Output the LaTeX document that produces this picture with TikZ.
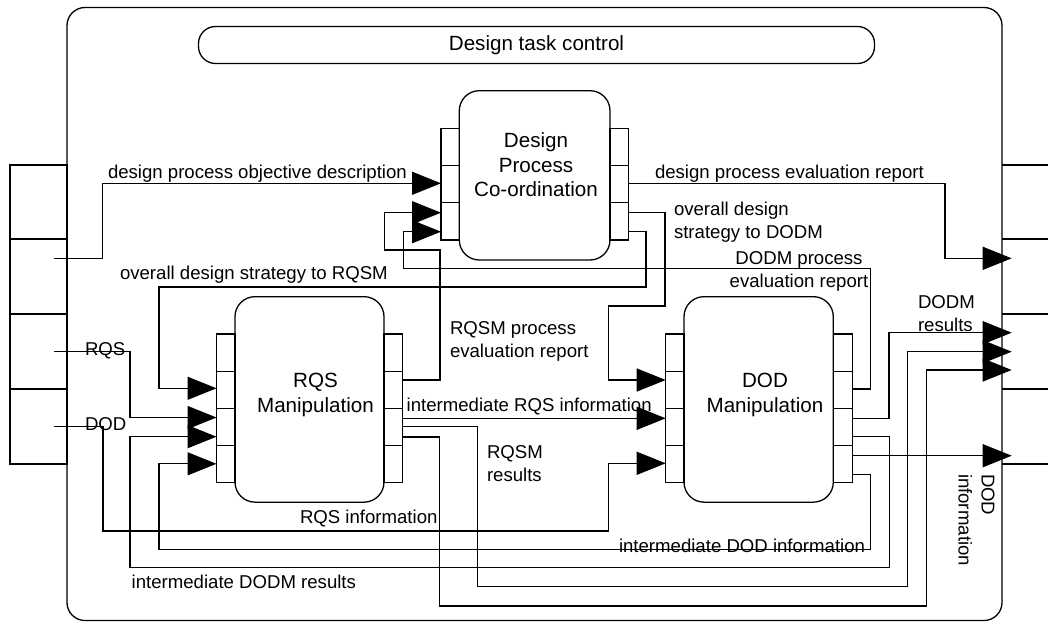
\documentclass[tikz,border=0pt]{standalone}
\usepackage{fontspec}
\setmainfont{Liberation Sans}
\usetikzlibrary{arrows.meta}
\begin{document}
\begin{tikzpicture}[x=1pt,y=-1pt,line width=1.3pt,
  lbl/.style={font=\fontsize{18.6}{23}\selectfont,inner sep=0pt,outer sep=0pt},
  blbl/.style={font=\fontsize{20.6}{24.5}\selectfont,align=center,inner sep=0pt},
  procbox/.style={draw,rounded corners=20pt,inner sep=0pt,outer sep=0pt},
  conn/.style={-{Triangle[length=29pt,width=23pt]}}]
\useasboundingbox (0,0) rectangle (1048,623);

% outer frame and its port columns
\draw[rounded corners=18pt] (67,7.5) rectangle (1002,620.5);
\draw (10,165) rectangle (67,464);
\foreach \y in {239,314,389} \draw (10,\y) -- (67,\y);
\foreach \y in {165,239,314,389,464} \draw (1002,\y) -- (1048,\y);

% title
\node[draw,rounded corners=17pt,minimum width=676pt,minimum height=37pt,inner sep=0pt,
      font=\fontsize{20.6}{24}\selectfont] (title) at (536.5,45) {Design task control};

% process boxes
\node[procbox,minimum width=150.7pt,minimum height=169.3pt] (dpc) at (534.65,175.35) {};
\node[procbox,minimum width=149pt,minimum height=205.5pt] (rqs) at (309.5,399.4) {};
\node[procbox,minimum width=149.3pt,minimum height=205.5pt] (dod) at (758.65,399.4) {};
\node[blbl] (dpct) at (536,165) {Design\\Process\\Co-ordination};
\node[blbl] (rqst) at (315.5,395) {RQS\\Manipulation};
\node[blbl] (dodt) at (765,395) {DOD\\Manipulation};

% port columns of the boxes
\draw (441,128.3) rectangle (459.3,240);
\draw (610,128.3) rectangle (628.3,240);
\foreach \y in {165.7,202.7} {\draw (441,\y) -- (459.3,\y); \draw (610,\y) -- (628.3,\y);}
\draw (216.5,334) rectangle (235,482.7);
\draw (384,334) rectangle (402.7,482.7);
\draw (665.7,334) rectangle (684,482.7);
\draw (833.3,334) rectangle (852.3,482.7);
\foreach \y in {371.2,408.3,445.5} {
  \draw (216.5,\y) -- (235,\y); \draw (384,\y) -- (402.7,\y);
  \draw (665.7,\y) -- (684,\y); \draw (833.3,\y) -- (852.3,\y);}

% port points
\coordinate (lpA) at (54,258.3);
\coordinate (lpB) at (54,351.7);
\coordinate (lpC) at (54,426.7);
\coordinate (rpA) at (1011.7,258.3);
\coordinate (rpB) at (1011.7,332.7);
\coordinate (rpC) at (1011.7,351.7);
\coordinate (rpD) at (1011.7,370);
\coordinate (rpE) at (1011.7,455.7);
\coordinate (dpcI1) at (441,183.3);
\coordinate (dpcI2) at (441,212.7);
\coordinate (dpcI3) at (441,231.7);
\coordinate (dpcO1) at (628.3,183.3);
\coordinate (dpcO2) at (628.3,212.7);
\coordinate (dpcO3) at (628.3,231.7);
\coordinate (rqsI1) at (216.5,388.3);
\coordinate (rqsI2) at (216.5,417.5);
\coordinate (rqsI3) at (216.5,436.7);
\coordinate (rqsI4) at (216.5,463.8);
\coordinate (rqsO1) at (402.7,380);
\coordinate (rqsO2) at (402.7,418.3);
\coordinate (rqsO3) at (402.7,426.7);
\coordinate (rqsO4) at (402.7,437);
\coordinate (dodI1) at (665.7,380);
\coordinate (dodI2) at (665.7,418.3);
\coordinate (dodI3) at (665.7,463.3);
\coordinate (dodO1) at (852.3,389);
\coordinate (dodO2) at (852.3,418.3);
\coordinate (dodO3) at (852.3,436.7);
\coordinate (dodO4) at (852.3,455.7);
\coordinate (dodO5) at (852.3,474.5);

% connectors
\draw[conn] (lpA) -- (102.3,258.3) |- (dpcI1);
\draw[conn] (dpcO1) -| (945,258.3) -- (rpA);
\draw[conn] (dpcO2) -- (665,212.7) |- (608.3,306) |- (dodI1);
\draw[conn] (dpcO3) -- (646,231.7) |- (159,287) |- (rqsI1);
\draw[conn] (rqsO1) -- (440,380) |- (384.5,250) |- (dpcI2);
\draw[conn] (dodO1) -- (870.7,389) |- (403.3,268.3) |- (dpcI3);
\draw[conn] (lpB) -- (130,351.7) |- (rqsI2);
\draw[conn] (lpC) -- (103,426.7) |- (608.5,531) |- (dodI3);
\draw[conn] (rqsO2) -- (dodI2);
\draw[conn] (rqsO3) -- (477.6,426.7) |- (907.7,586.7) |- (rpC);
\draw[conn] (rqsO4) -- (439.5,437) |- (926.7,606) |- (rpD);
\draw[conn] (dodO2) -- (889,418.3) |- (rpB);
\draw[conn] (dodO3) -- (889.5,436.7) |- (130,567.7) |- (rqsI3);
\draw[conn] (dodO4) -- (rpE);
\draw[conn] (dodO5) -- (870.7,474.5) |- (159,549.3) |- (rqsI4);

% labels
\node[lbl,anchor=base west] (l1) at (108,178) {design process objective description};
\node[lbl,anchor=base west] (l2) at (655,178) {design process evaluation report};
\node[lbl,anchor=west,align=left] (l3) at (674,222) {overall design\\strategy to DODM};
\node[lbl,anchor=center,align=center] (l4) at (799,271) {DODM process\\evaluation report};
\node[lbl,anchor=base west] (l5) at (120,279) {overall design strategy to RQSM};
\node[lbl,anchor=west,align=left] (l6) at (450,341) {RQSM process\\evaluation report};
\node[lbl,anchor=base west] (l7) at (85,355) {RQS};
\node[lbl,anchor=base west] (l8) at (85,430) {DOD};
\node[lbl,anchor=base west] (l9) at (406.7,411) {intermediate RQS information};
\node[lbl,anchor=west,align=left] (l10) at (487,464) {RQSM\\results};
\node[lbl,anchor=base west] (l11) at (300,523) {RQS information};
\node[lbl,anchor=base west] (l12) at (619,552) {intermediate DOD information};
\node[lbl,anchor=base west] (l13) at (131.7,588.5) {intermediate DODM results};
\node[lbl,anchor=west,align=left] (l14) at (918,314) {DODM\\results};
\node[lbl,rotate=-90,align=left] (l15) at (976.5,520) {DOD\\information};
\end{tikzpicture}
\end{document}
